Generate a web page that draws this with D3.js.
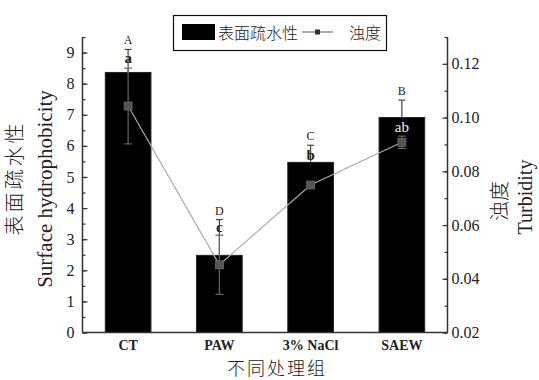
<!DOCTYPE html>
<html>
<head>
<meta charset="utf-8">
<script src="https://cdn.jsdelivr.net/npm/d3@7/dist/d3.min.js"></script>
<style>
  html, body { margin: 0; padding: 0; background: #ffffff; }
  svg { display: block; }
</style>
</head>
<body>
<script>
// Treatment groups
const categories = ["CT", "PAW", "3% NaCl", "SAEW"];
// Surface hydrophobicity (bars) with standard deviations
const hydrophobicity = [8.36, 2.48, 5.47, 6.91];
const hydroError = [0.74, 1.15, 0.55, 0.56];
// Turbidity (line) with standard deviations
const turbidity = [0.1043, 0.0452, 0.0749, 0.0908];
const turbError = [0.0141, 0.0110, 0.0010, 0.0023];
// Significance letters
const upperLetters = ["A", "D", "C", "B"];
const lowerLetters = ["a", "c", "b", "ab"];
// Anchor of lowercase letters, in hydrophobicity units
const lowerLetterAt = [8.66, 3.22, 5.54, 6.44];
// Tick values
const leftTicks = [0, 1, 2, 3, 4, 5, 6, 7, 8, 9];
const rightTicks = [0.02, 0.04, 0.06, 0.08, 0.10, 0.12];

const SERIF = "'Liberation Serif', 'DejaVu Serif', serif";
const CJK = "'Noto Sans CJK SC', sans-serif";

const W = 539, H = 380;
const plot = { left: 82.5, right: 447.5, top: 37, bottom: 332.5 };

const svg = d3.select("body").append("svg")
  .attr("width", W).attr("height", H);

const x = d3.scaleBand().domain(categories)
  .range([plot.left, plot.right]).paddingInner(0.5).paddingOuter(0.25);
const yL = d3.scaleLinear().domain([0, 9.5]).range([plot.bottom, plot.top]);
const yR = d3.scaleLinear().domain([0.02, 0.13]).range([plot.bottom, plot.top]);

const axisColor = "#333";
const cxOf = c => x(c) + x.bandwidth() / 2;

// Bars
svg.append("g").selectAll("rect").data(categories).join("rect")
  .attr("x", d => x(d))
  .attr("width", x.bandwidth())
  .attr("y", (d, i) => yL(hydrophobicity[i]))
  .attr("height", (d, i) => yL(0) - yL(hydrophobicity[i]))
  .attr("fill", "#000")
  .attr("stroke", "#222");

// Bar error bars (upper half visible above bar)
const barErr = svg.append("g").attr("stroke", "#444").attr("stroke-width", 1.2);
categories.forEach((c, i) => {
  const cx = cxOf(c);
  const top = yL(hydrophobicity[i] + hydroError[i]);
  barErr.append("line").attr("x1", cx).attr("x2", cx)
    .attr("y1", yL(hydrophobicity[i])).attr("y2", top);
  barErr.append("line").attr("x1", cx - 3.5).attr("x2", cx + 3.5)
    .attr("y1", top).attr("y2", top);
});

// Turbidity line
svg.append("path")
  .datum(categories)
  .attr("fill", "none")
  .attr("stroke", "#aaa")
  .attr("stroke-width", 1.2)
  .attr("d", d3.line().x(c => cxOf(c)).y((c, i) => yR(turbidity[i])));

// Turbidity error bars
const tErr = svg.append("g").attr("stroke", "#666").attr("stroke-width", 1.2);
categories.forEach((c, i) => {
  const cx = cxOf(c);
  const y1 = yR(turbidity[i] + turbError[i]);
  const y2 = yR(turbidity[i] - turbError[i]);
  tErr.append("line").attr("x1", cx).attr("x2", cx).attr("y1", y1).attr("y2", y2);
  [y1, y2].forEach(yy => tErr.append("line")
    .attr("x1", cx - 4).attr("x2", cx + 4).attr("y1", yy).attr("y2", yy));
});

// Turbidity markers
svg.append("g").selectAll("rect").data(categories).join("rect")
  .attr("x", c => cxOf(c) - 4)
  .attr("y", (c, i) => yR(turbidity[i]) - 4)
  .attr("width", 8).attr("height", 8)
  .attr("fill", "#555").attr("stroke", "#666").attr("stroke-width", 0.8);

// Significance letters
svg.append("g").selectAll("text").data(categories).join("text")
  .attr("font-family", SERIF)
  .attr("x", c => cxOf(c))
  .attr("y", (c, i) => yL(hydrophobicity[i] + hydroError[i]) - 5)
  .attr("text-anchor", "middle")
  .attr("font-size", 12)
  .attr("fill", "#222")
  .text((c, i) => upperLetters[i]);

svg.append("g").selectAll("text").data(categories).join("text")
  .attr("font-family", SERIF)
  .attr("x", c => cxOf(c))
  .attr("y", (c, i) => yL(lowerLetterAt[i]))
  .attr("text-anchor", "middle")
  .attr("font-size", 15)
  .attr("font-weight", (c, i) => lowerLetters[i] === "ab" ? "normal" : "bold")
  .attr("fill", (c, i) => lowerLetterAt[i] < hydrophobicity[i] ? "#eee" : "#222")
  .text((c, i) => lowerLetters[i]);

// Left axis: minor ticks, then major ticks with labels
const gLm = svg.append("g").attr("transform", `translate(${plot.left},0)`)
  .call(d3.axisLeft(yL).tickValues(d3.range(0, 9.51, 0.5)).tickSize(-3).tickFormat(""));
const gL = svg.append("g").attr("transform", `translate(${plot.left},0)`)
  .call(d3.axisLeft(yL).tickValues(leftTicks).tickSize(-5).tickPadding(8).tickFormat(d3.format("d")));
gLm.select(".domain").remove();

// Right axis: minor ticks, then major ticks with labels
const gRm = svg.append("g").attr("transform", `translate(${plot.right},0)`)
  .call(d3.axisRight(yR).tickValues(d3.range(0.02, 0.1301, 0.01)).tickSize(-3).tickFormat(""));
const gR = svg.append("g").attr("transform", `translate(${plot.right},0)`)
  .call(d3.axisRight(yR).tickValues(rightTicks).tickSize(-5).tickPadding(4).tickFormat(d3.format(".2f")));
gRm.select(".domain").remove();

[gL, gR].forEach(g => g.select(".domain").attr("d", `M0,${plot.top}V${plot.bottom}`));

// Bottom axis line
svg.append("line")
  .attr("x1", plot.left).attr("x2", plot.right)
  .attr("y1", plot.bottom).attr("y2", plot.bottom)
  .attr("stroke", axisColor).attr("stroke-width", 1.5);

[gL, gR, gLm, gRm].forEach(g => {
  g.attr("font-family", SERIF).attr("font-size", 16);
  g.selectAll(".domain").attr("stroke", axisColor).attr("stroke-width", 1.5).attr("fill", "none");
  g.selectAll(".tick line").attr("stroke", axisColor).attr("stroke-width", 1.2);
  g.selectAll(".tick text").attr("fill", "#222");
});

// Category labels
svg.append("g").selectAll("text").data(categories).join("text")
  .attr("font-family", SERIF)
  .attr("x", c => cxOf(c))
  .attr("y", 350)
  .attr("text-anchor", "middle")
  .attr("font-size", 14)
  .attr("font-weight", "bold")
  .attr("fill", "#222")
  .text(c => c);

// Axis titles
svg.append("text").attr("font-family", CJK).attr("font-weight", 300)
  .attr("x", (plot.left + plot.right) / 2 + 12).attr("y", 375)
  .attr("text-anchor", "middle").attr("font-size", 18).attr("fill", "#222")
  .attr("letter-spacing", 2)
  .text("不同处理组");

svg.append("text").attr("font-family", CJK).attr("font-weight", 300)
  .attr("transform", "translate(22,178) rotate(-90)")
  .attr("text-anchor", "middle").attr("font-size", 20).attr("fill", "#222")
  .attr("letter-spacing", 3)
  .text("表面疏水性");
svg.append("text").attr("font-family", SERIF)
  .attr("transform", "translate(52,189) rotate(-90)")
  .attr("text-anchor", "middle").attr("font-size", 21).attr("fill", "#222")
  .text("Surface  hydrophobicity");

svg.append("text").attr("font-family", CJK).attr("font-weight", 300)
  .attr("transform", "translate(507,201) rotate(-90)")
  .attr("text-anchor", "middle").attr("font-size", 20).attr("fill", "#222")
  .text("浊度");
svg.append("text").attr("font-family", SERIF)
  .attr("transform", "translate(532,197) rotate(-90)")
  .attr("text-anchor", "middle").attr("font-size", 20).attr("fill", "#222")
  .text("Turbidity");

// Legend
const lg = svg.append("g");
lg.append("rect").attr("x", 173.5).attr("y", 15.5).attr("width", 213).attr("height", 35)
  .attr("fill", "#fff").attr("stroke", "#111").attr("stroke-width", 1.2);
lg.append("rect").attr("x", 182).attr("y", 24).attr("width", 33).attr("height", 16).attr("fill", "#000");
lg.append("text").attr("font-family", CJK).attr("font-weight", 300).attr("x", 218).attr("y", 38.5)
  .attr("font-size", 16).attr("fill", "#222").text("表面疏水性");
lg.append("line").attr("x1", 302).attr("x2", 333).attr("y1", 32).attr("y2", 32)
  .attr("stroke", "#777").attr("stroke-width", 1.2);
lg.append("rect").attr("x", 315).attr("y", 29.5).attr("width", 5).attr("height", 5).attr("fill", "#333");
lg.append("text").attr("font-family", CJK).attr("font-weight", 300).attr("x", 349).attr("y", 38.5)
  .attr("font-size", 16).attr("fill", "#222").text("浊度");
</script>
</body>
</html>
